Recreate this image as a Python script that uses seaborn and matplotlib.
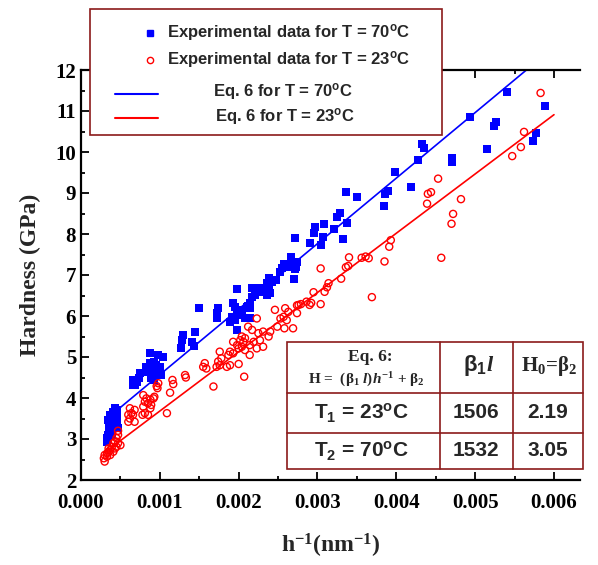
import matplotlib.pyplot as plt
import seaborn as sns
import numpy as np
from matplotlib.lines import Line2D
from matplotlib.patches import Rectangle
from matplotlib.ticker import MultipleLocator, FormatStrFormatter

# experimental data, T = 70 C (blue squares)
blue_x = [0.000326, 0.000335, 0.000346, 0.000346, 0.000368, 0.000368, 0.00035, 0.00039, 0.00041,
          0.000368, 0.00039, 0.00041, 0.000431, 0.00039, 0.000431, 0.000453, 0.00041, 0.000431,
          0.000453, 0.000473, 0.00043, 0.000346, 0.00037, 0.000453, 0.00039,
          0.00087, 0.00098, 0.00104, 0.00088, 0.00092, 0.00083, 0.00089, 0.00095, 0.0010, 0.00085,
          0.00092, 0.00096, 0.00102, 0.00089, 0.00093, 0.00075, 0.00073, 0.00071, 0.00066, 0.00069,
          0.00066,
          0.0013, 0.00128, 0.00127, 0.00145, 0.00141, 0.00143, 0.0015,
          0.00174, 0.00172, 0.00172, 0.00198, 0.00193, 0.00195, 0.00202, 0.0020, 0.00204, 0.00198,
          0.00191, 0.00195, 0.00189, 0.00208, 0.00214, 0.00198, 0.00214, 0.00212, 0.0021, 0.00215,
          0.00217, 0.00221, 0.00217, 0.00227, 0.00229, 0.00225, 0.00239, 0.00236, 0.0024, 0.00238,
          0.00236, 0.00247, 0.00242,
          0.00253, 0.00255, 0.00257, 0.00263, 0.00265, 0.0027, 0.00274, 0.00273, 0.00271, 0.0027,
          0.00267, 0.00272, 0.00291, 0.00295, 0.00297, 0.00308, 0.00307, 0.00305,
          0.00321, 0.00325, 0.00328, 0.00338, 0.00332, 0.00336, 0.0035, 0.00384, 0.00386, 0.00389,
          0.00418, 0.00398, 0.00428, 0.00432, 0.00435, 0.0047, 0.00471, 0.00493, 0.00515, 0.00524,
          0.00527, 0.0054, 0.00574, 0.00577, 0.00588]
blue_y = [2.93, 3.02, 2.98, 3.10, 3.14, 3.22, 3.30, 3.26, 3.34,
          3.38, 3.42, 3.46, 3.50, 3.54, 3.58, 3.63, 3.67, 3.75,
          3.71, 3.26, 3.30, 3.46, 3.58, 3.46, 3.10,
          5.09, 5.05, 5.01, 4.85, 4.89, 4.76, 4.76, 4.80, 4.76, 4.64,
          4.60, 4.56, 4.56, 4.48, 4.44, 4.60, 4.48, 4.40, 4.44, 4.32,
          4.32,
          5.54, 5.41, 5.21, 5.62, 5.37, 5.27, 6.19,
          6.19, 6.07, 5.94, 6.66, 6.31, 6.21, 6.15, 6.10, 6.07, 6.02,
          5.98, 5.90, 5.86, 5.94, 5.94, 5.66, 6.31, 6.24, 6.21, 6.19,
          6.69, 6.51, 6.47, 6.68, 6.59, 6.62, 6.63, 6.51, 6.55, 6.92,
          6.80, 6.88, 6.84,
          7.08, 7.16, 7.28, 7.20, 7.24, 7.28, 7.32, 7.20, 7.14, 6.90,
          7.45, 7.90, 7.77, 8.02, 8.16, 8.24, 7.93, 7.73,
          8.11, 8.41, 8.52, 8.28, 7.87, 9.03, 8.91, 8.68, 8.97, 9.06,
          9.15, 9.52, 9.80, 10.20, 10.10, 9.76, 9.85, 10.86, 10.08, 10.64,
          10.72, 11.47, 10.26, 10.47, 11.12]

# experimental data, T = 23 C (red circles)
red_x = [0.00047, 0.00045, 0.00047, 0.00043, 0.0005, 0.00039, 0.00043, 0.00037, 0.00035, 0.00033,
         0.0003, 0.00029, 0.0003, 0.00035, 0.00045, 0.00041, 0.00037, 0.00033, 0.00041, 0.00047,
         0.00062, 0.00068, 0.00064, 0.0006, 0.00066, 0.00062, 0.0006, 0.00068,
         0.00079, 0.00083, 0.00088, 0.00092, 0.00081, 0.00085, 0.00089, 0.00093, 0.00079, 0.00088,
         0.00081, 0.00085, 0.00078, 0.00098, 0.00096, 0.00097,
         0.00116, 0.00117, 0.00113, 0.00132, 0.00133, 0.00109, 0.00168, 0.00157, 0.00155, 0.00159,
         0.00172, 0.00176, 0.00174, 0.00178, 0.00176,
         0.00185, 0.00189, 0.0020, 0.00193, 0.00202, 0.00206, 0.00198, 0.00204, 0.0020, 0.00208,
         0.00189, 0.00193, 0.00187, 0.00207,
         0.00204, 0.00208, 0.00214, 0.00223, 0.00231, 0.00214, 0.00219, 0.00227, 0.00238, 0.0024,
         0.00231, 0.00225, 0.00217, 0.00212, 0.00223, 0.00246, 0.00259, 0.00257, 0.00253, 0.00261,
         0.00263, 0.00276, 0.00286, 0.00274, 0.00249, 0.00258, 0.00269,
         0.00274, 0.00279, 0.0029, 0.00292, 0.00295, 0.00304, 0.00309, 0.00312, 0.00314, 0.0033,
         0.00369, 0.00304, 0.00336, 0.00339, 0.0034, 0.00356, 0.00361, 0.00365, 0.00385, 0.00391,
         0.00393,
         0.00439, 0.0044, 0.00444, 0.00453, 0.00457, 0.0047, 0.00472, 0.00482, 0.00547, 0.00558,
         0.00562, 0.00583]
red_y = [3.10, 3.02, 2.90, 2.93, 2.85, 2.81, 2.77, 2.73, 2.69, 2.65,
         2.61, 2.53, 2.45, 2.77, 2.81, 2.69, 2.61, 2.57, 2.90, 3.20,
         3.75, 3.71, 3.63, 3.59, 3.59, 3.50, 3.42, 3.42,
         4.07, 3.99, 3.96, 3.99, 3.91, 3.87, 3.83, 4.03, 3.79, 3.75,
         3.63, 3.59, 3.59, 4.36, 4.29, 4.24,
         4.44, 4.34, 4.13, 4.56, 4.50, 3.63, 4.28, 4.85, 4.76, 4.72,
         4.76, 4.80, 4.89, 4.97, 5.13,
         4.76, 4.80, 4.83, 5.37, 5.41, 5.37, 5.29, 5.25, 5.21, 5.17,
         5.13, 5.09, 5.05, 4.52,
         5.50, 5.46, 5.05, 5.21, 5.25, 5.29, 5.37, 5.41, 5.50, 5.62,
         5.62, 5.58, 5.66, 5.74, 5.94, 6.15, 6.19, 5.98, 5.94, 5.90,
         6.10, 6.27, 6.35, 6.07, 5.74, 5.70, 5.70,
         6.26, 6.29, 6.27, 6.32, 6.58, 6.29, 6.59, 6.70, 6.80, 6.91,
         6.46, 7.16, 7.19, 7.22, 7.43, 7.42, 7.45, 7.41, 7.33, 7.69,
         7.85,
         8.74, 8.98, 9.02, 9.35, 7.42, 8.25, 8.49, 8.85, 9.90, 10.12,
         10.49, 11.44]

# fitted lines (Eq. 6) as drawn
blue_fit_x = [0.00045, 0.00565]
blue_fit_y = [3.69, 12.0]
red_fit_x = [0.0003, 0.006]
red_fit_y = [2.67, 10.91]

legend_labels = ["Experimental data for T = 70$^{o}$C",
                 "Experimental data for T = 23$^{o}$C",
                 "Eq. 6 for T = 70$^{o}$C",
                 "Eq. 6 for T = 23$^{o}$C"]

table_rows = ["T$_1$ = 23$^{o}$C", "T$_2$ = 70$^{o}$C"]
table_b1l = ["1506", "1532"]
table_h0 = ["2.19", "3.05"]

sns.set_style("ticks")
plt.rcParams['font.family'] = ['Liberation Serif', 'DejaVu Serif']
plt.rcParams['font.weight'] = 'bold'
plt.rcParams['mathtext.default'] = 'regular'
plt.rcParams['mathtext.fontset'] = 'custom'
plt.rcParams['mathtext.rm'] = 'Liberation Serif:bold'
plt.rcParams['mathtext.it'] = 'Liberation Serif:italic:bold'
plt.rcParams['mathtext.bf'] = 'Liberation Serif:bold'

W, H = 598, 565
fig = plt.figure(figsize=(W / 100, H / 100), dpi=100)
ax = fig.add_axes([81 / W, 85 / H, 499 / W, 410 / H])

sns.scatterplot(x=blue_x, y=blue_y, marker='s', color='#0000ff', s=26, linewidth=0, ax=ax)
sns.scatterplot(x=red_x, y=red_y, marker='o', color='#ff0000', facecolors='none',
                edgecolor='#ff0000', s=26, linewidth=1.0, ax=ax)
sns.lineplot(x=blue_fit_x, y=blue_fit_y, color='#0000ff', lw=1.2, ax=ax)
sns.lineplot(x=red_fit_x, y=red_fit_y, color='#ff0000', lw=1.2, ax=ax)

ax.set_xlim(0, 0.00633)
ax.set_ylim(2, 12)
ax.xaxis.set_major_locator(MultipleLocator(0.001))
ax.xaxis.set_minor_locator(MultipleLocator(0.0005))
ax.xaxis.set_major_formatter(FormatStrFormatter('%.3f'))
ax.yaxis.set_major_locator(MultipleLocator(1))
ax.yaxis.set_minor_locator(MultipleLocator(0.5))
ax.tick_params(which='both', direction='in', top=True, right=False, width=1.3,
               labelsize=15, colors='black')
ax.tick_params(which='major', length=6)
ax.tick_params(which='minor', length=3)
ax.tick_params(axis='x', pad=9)
ax.spines['right'].set_visible(False)
for s in ['left', 'bottom', 'top']:
    ax.spines[s].set_linewidth(1.6)
    ax.spines[s].set_color('black')
for lab in ax.get_xticklabels() + ax.get_yticklabels():
    lab.set_fontweight('bold')

ax.set_xlabel("h$^{-1}$(nm$^{-1}$)", fontsize=17, fontweight='bold', labelpad=14)
ax.set_ylabel("Hardness (GPa)", fontsize=17, fontweight='bold', labelpad=10)

# legend box drawn in figure pixels
def fx(px):
    return px / W

def fy(py):
    return 1 - py / H

box_col = '#8b1a1a'
fig.add_artist(Rectangle((fx(90), fy(135)), (442 - 90) / W, (135 - 9) / H,
                         transform=fig.transFigure, facecolor='white', edgecolor=box_col, lw=1.2))
sans = dict(family=['Liberation Sans', 'DejaVu Sans'], weight='bold', size=12)
fig.add_artist(Line2D([fx(150)], [fy(33)], marker='s', color='#0000ff', markersize=4, lw=0,
                      transform=fig.transFigure))
fig.add_artist(Line2D([fx(150)], [fy(60)], marker='o', markerfacecolor='none', markeredgecolor='#ff0000',
                      markersize=4.5, lw=0, transform=fig.transFigure))
fig.add_artist(Line2D([fx(115), fx(158)], [fy(94), fy(94)], color='#0000ff', lw=1.5,
                      transform=fig.transFigure))
fig.add_artist(Line2D([fx(115), fx(158)], [fy(118), fy(118)], color='#ff0000', lw=1.5,
                      transform=fig.transFigure))
fig.text(fx(167), fy(33), legend_labels[0], ha='left', va='center', fontdict=sans)
fig.text(fx(167), fy(60), legend_labels[1], ha='left', va='center', fontdict=sans)
fig.text(fx(213), fy(91), legend_labels[2], ha='left', va='center', fontdict=sans)
fig.text(fx(215), fy(116), legend_labels[3], ha='left', va='center', fontdict=sans)

# parameter table
fig.add_artist(Rectangle((fx(287), fy(469)), (583 - 287) / W, (469 - 342) / H,
                         transform=fig.transFigure, facecolor='white', edgecolor=box_col, lw=1.2))
for yy in [393, 433]:
    fig.add_artist(Line2D([fx(287), fx(583)], [fy(yy), fy(yy)], color=box_col, lw=1.2,
                          transform=fig.transFigure))
for xx in [440, 513]:
    fig.add_artist(Line2D([fx(xx), fx(xx)], [fy(342), fy(469)], color=box_col, lw=1.2,
                          transform=fig.transFigure))
serif = dict(family=['Liberation Serif', 'DejaVu Serif'], weight='bold')
fig.text(fx(370), fy(357), "Eq. 6:", ha='center', va='center', size=12.5, **serif)
fig.text(fx(366), fy(380), "H =  (β$_1$ $\\mathit{l}$)$\\mathit{h}^{-1}$ + β$_2$", ha='center',
         va='center', size=11, **serif)
fig.text(fx(479), fy(366), "β$_1$$\\mathit{l}$", ha='center', va='center', size=16,
         family=['Liberation Sans', 'DejaVu Sans'], weight='bold')
fig.text(fx(549), fy(366), "H$_0$=β$_2$", ha='center', va='center', size=15, **serif)
row_y = [413, 451]
for i in range(2):
    fig.text(fx(361), fy(row_y[i]), table_rows[i], ha='center', va='center', fontdict=dict(sans, size=15))
    fig.text(fx(476), fy(row_y[i]), table_b1l[i], ha='center', va='center', fontdict=dict(sans, size=15))
    fig.text(fx(548), fy(row_y[i]), table_h0[i], ha='center', va='center', fontdict=dict(sans, size=15))

plt.savefig('out.png', dpi=100)
